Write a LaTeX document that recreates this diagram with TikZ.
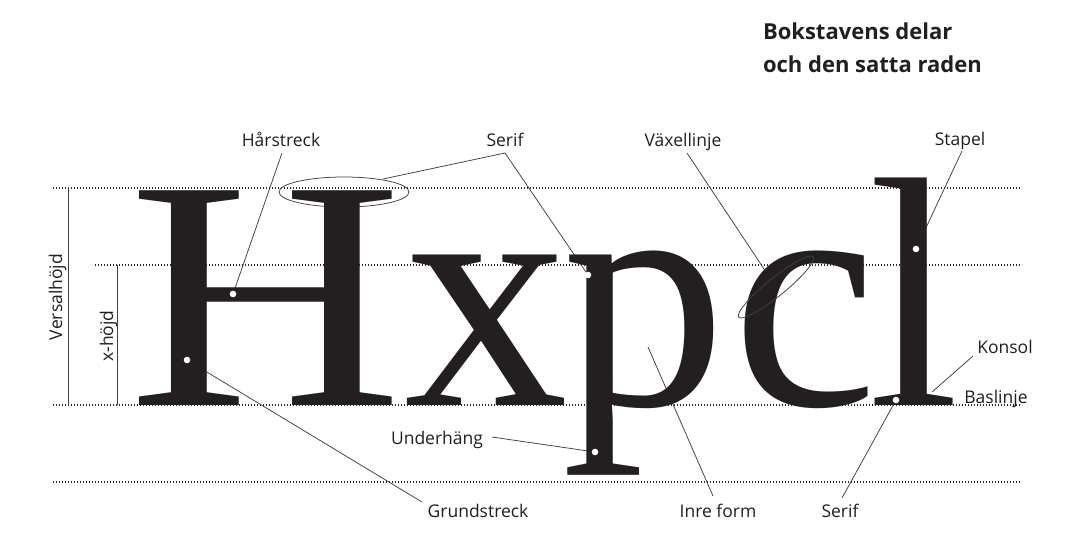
\documentclass[tikz,border=0pt]{standalone}
\usepackage{fontspec}
\usepackage{graphicx}
\setmainfont{Liberation Serif}
\newfontfamily\labelfont{Open Sans}
\newfontfamily\glyphfont{Liberation Serif}
\definecolor{ink}{HTML}{231F20}
\definecolor{leader}{HTML}{404040}
\definecolor{guide}{HTML}{2A2A2A}
\begin{document}
\begin{tikzpicture}[x=1pt,y=-1pt,
  guideline/.style={draw=guide, line width=1.2pt, dash pattern=on 1.2pt off 1.8pt},
  leaderline/.style={draw=leader, line width=0.75pt},
  measureline/.style={draw=leader, line width=0.75pt},
  glyph/.style={inner sep=0pt, outer sep=0pt, anchor=base, text=ink, font=\glyphfont\fontsize{328}{328}\selectfont},
  lbl/.style={inner sep=0pt, outer sep=0pt, anchor=base, text=ink, font=\labelfont\fontsize{17.5}{20}\selectfont},
  ttl/.style={inner sep=0pt, outer sep=0pt, anchor=base west, text=ink, font=\labelfont\bfseries\fontsize{22}{26}\selectfont},
  pin/.style={circle, fill=white, inner sep=0pt, minimum size=6.5pt},
  ring/.style={draw=leader, line width=0.75pt}
]
\fill[white] (0,0) rectangle (1068,542);
\useasboundingbox (0,0) rectangle (1068,542);

% guide lines
\draw[guideline] (53,188) -- (1022,188);
\draw[guideline] (95,265) -- (1022,265);
\draw[guideline] (53,405) -- (1022,405);
\draw[guideline] (53,482) -- (1022,482);

% measure lines
\draw[measureline] (68,188) -- (68,405);
\draw[measureline] (117,265) -- (117,405);
\node[lbl, rotate=90] (versal) at (62,297) {Versalhöjd};
\node[lbl, rotate=90] (xhojd) at (113,336) {x-höjd};

% title
\node[ttl] (title1) at (763,39) {Bokstavens delar};
\node[ttl] (title2) at (763,72) {och den satta raden};

% labels
\node[lbl] (harstreck) at (281,146) {Hårstreck};
\node[lbl] (seriftop) at (505,146) {Serif};
\node[lbl] (vaxel) at (683,146) {Växellinje};
\node[lbl] (stapel) at (960,145) {Stapel};
\node[lbl] (konsol) at (1005,353) {Konsol};
\node[lbl] (baslinje) at (996,403) {Baslinje};
\node[lbl] (underhang) at (437,444) {Underhäng};
\node[lbl] (grund) at (478,517) {Grundstreck};
\node[lbl] (inre) at (718,517) {Inre form};
\node[lbl] (serifbot) at (840,517) {Serif};

% leader start points
\coordinate (harstreck-s) at (282,153);
\coordinate (seriftop-s) at (505,153);
\coordinate (vaxel-s) at (687,153);
\coordinate (stapel-s) at (962,151);
\coordinate (konsol-s) at (973,356);
\coordinate (underhang-s) at (492,437);
\coordinate (grund-s) at (422,502);
\coordinate (inre-s) at (713,496);
\coordinate (serifbot-s) at (842,498);

% leader end points
\coordinate (ringH-top) at (383,179);
\coordinate (ringC-top) at (768,275);
\coordinate (konsol-e) at (932,392);
\coordinate (inre-e) at (648,347);

% pins
\node[pin] (p-har) at (233,294) {};
\node[pin] (p-grund) at (187,360) {};
\node[pin] (p-serifp) at (588,275) {};
\node[pin] (p-under) at (595,452) {};
\node[pin] (p-stapel) at (916,249) {};
\node[pin] (p-serifl) at (896,400) {};

% leader lines
\draw[leaderline] (harstreck-s) -- (p-har.center);
\draw[leaderline] (seriftop-s) -- (ringH-top);
\draw[leaderline] (seriftop-s) -- (p-serifp.center);
\draw[leaderline] (vaxel-s) -- (ringC-top);
\draw[leaderline] (stapel-s) -- (p-stapel.center);
\draw[leaderline] (konsol-s) -- (konsol-e);
\draw[leaderline] (underhang-s) -- (p-under.center);
\draw[leaderline] (grund-s) -- (p-grund.center);
\draw[leaderline] (inre-s) -- (inre-e);
\draw[leaderline] (serifbot-s) -- (p-serifl.center);

% ring around H serif
\draw[ring] (344,192) ellipse [x radius=65pt, y radius=15pt];

% glyphs
\node[glyph] (gH) at (266,405) {\scalebox{1.16}[1]{H}};
\node[glyph] (gx) at (486,405) {x};
\node[glyph] (gp) at (644,405) {p};
\node[glyph] (gc) at (805,405) {c};
\node[glyph] (gl) at (914,405) {l};

% ring on c
\draw[ring, rotate around={39:(776,287)}] (776,287) ellipse [x radius=48pt, y radius=9pt];

% pins on top
\foreach \p in {p-har,p-grund,p-serifp,p-under,p-stapel,p-serifl}
  \fill[white] (\p.center) circle (3.3pt);
\end{tikzpicture}
\end{document}
